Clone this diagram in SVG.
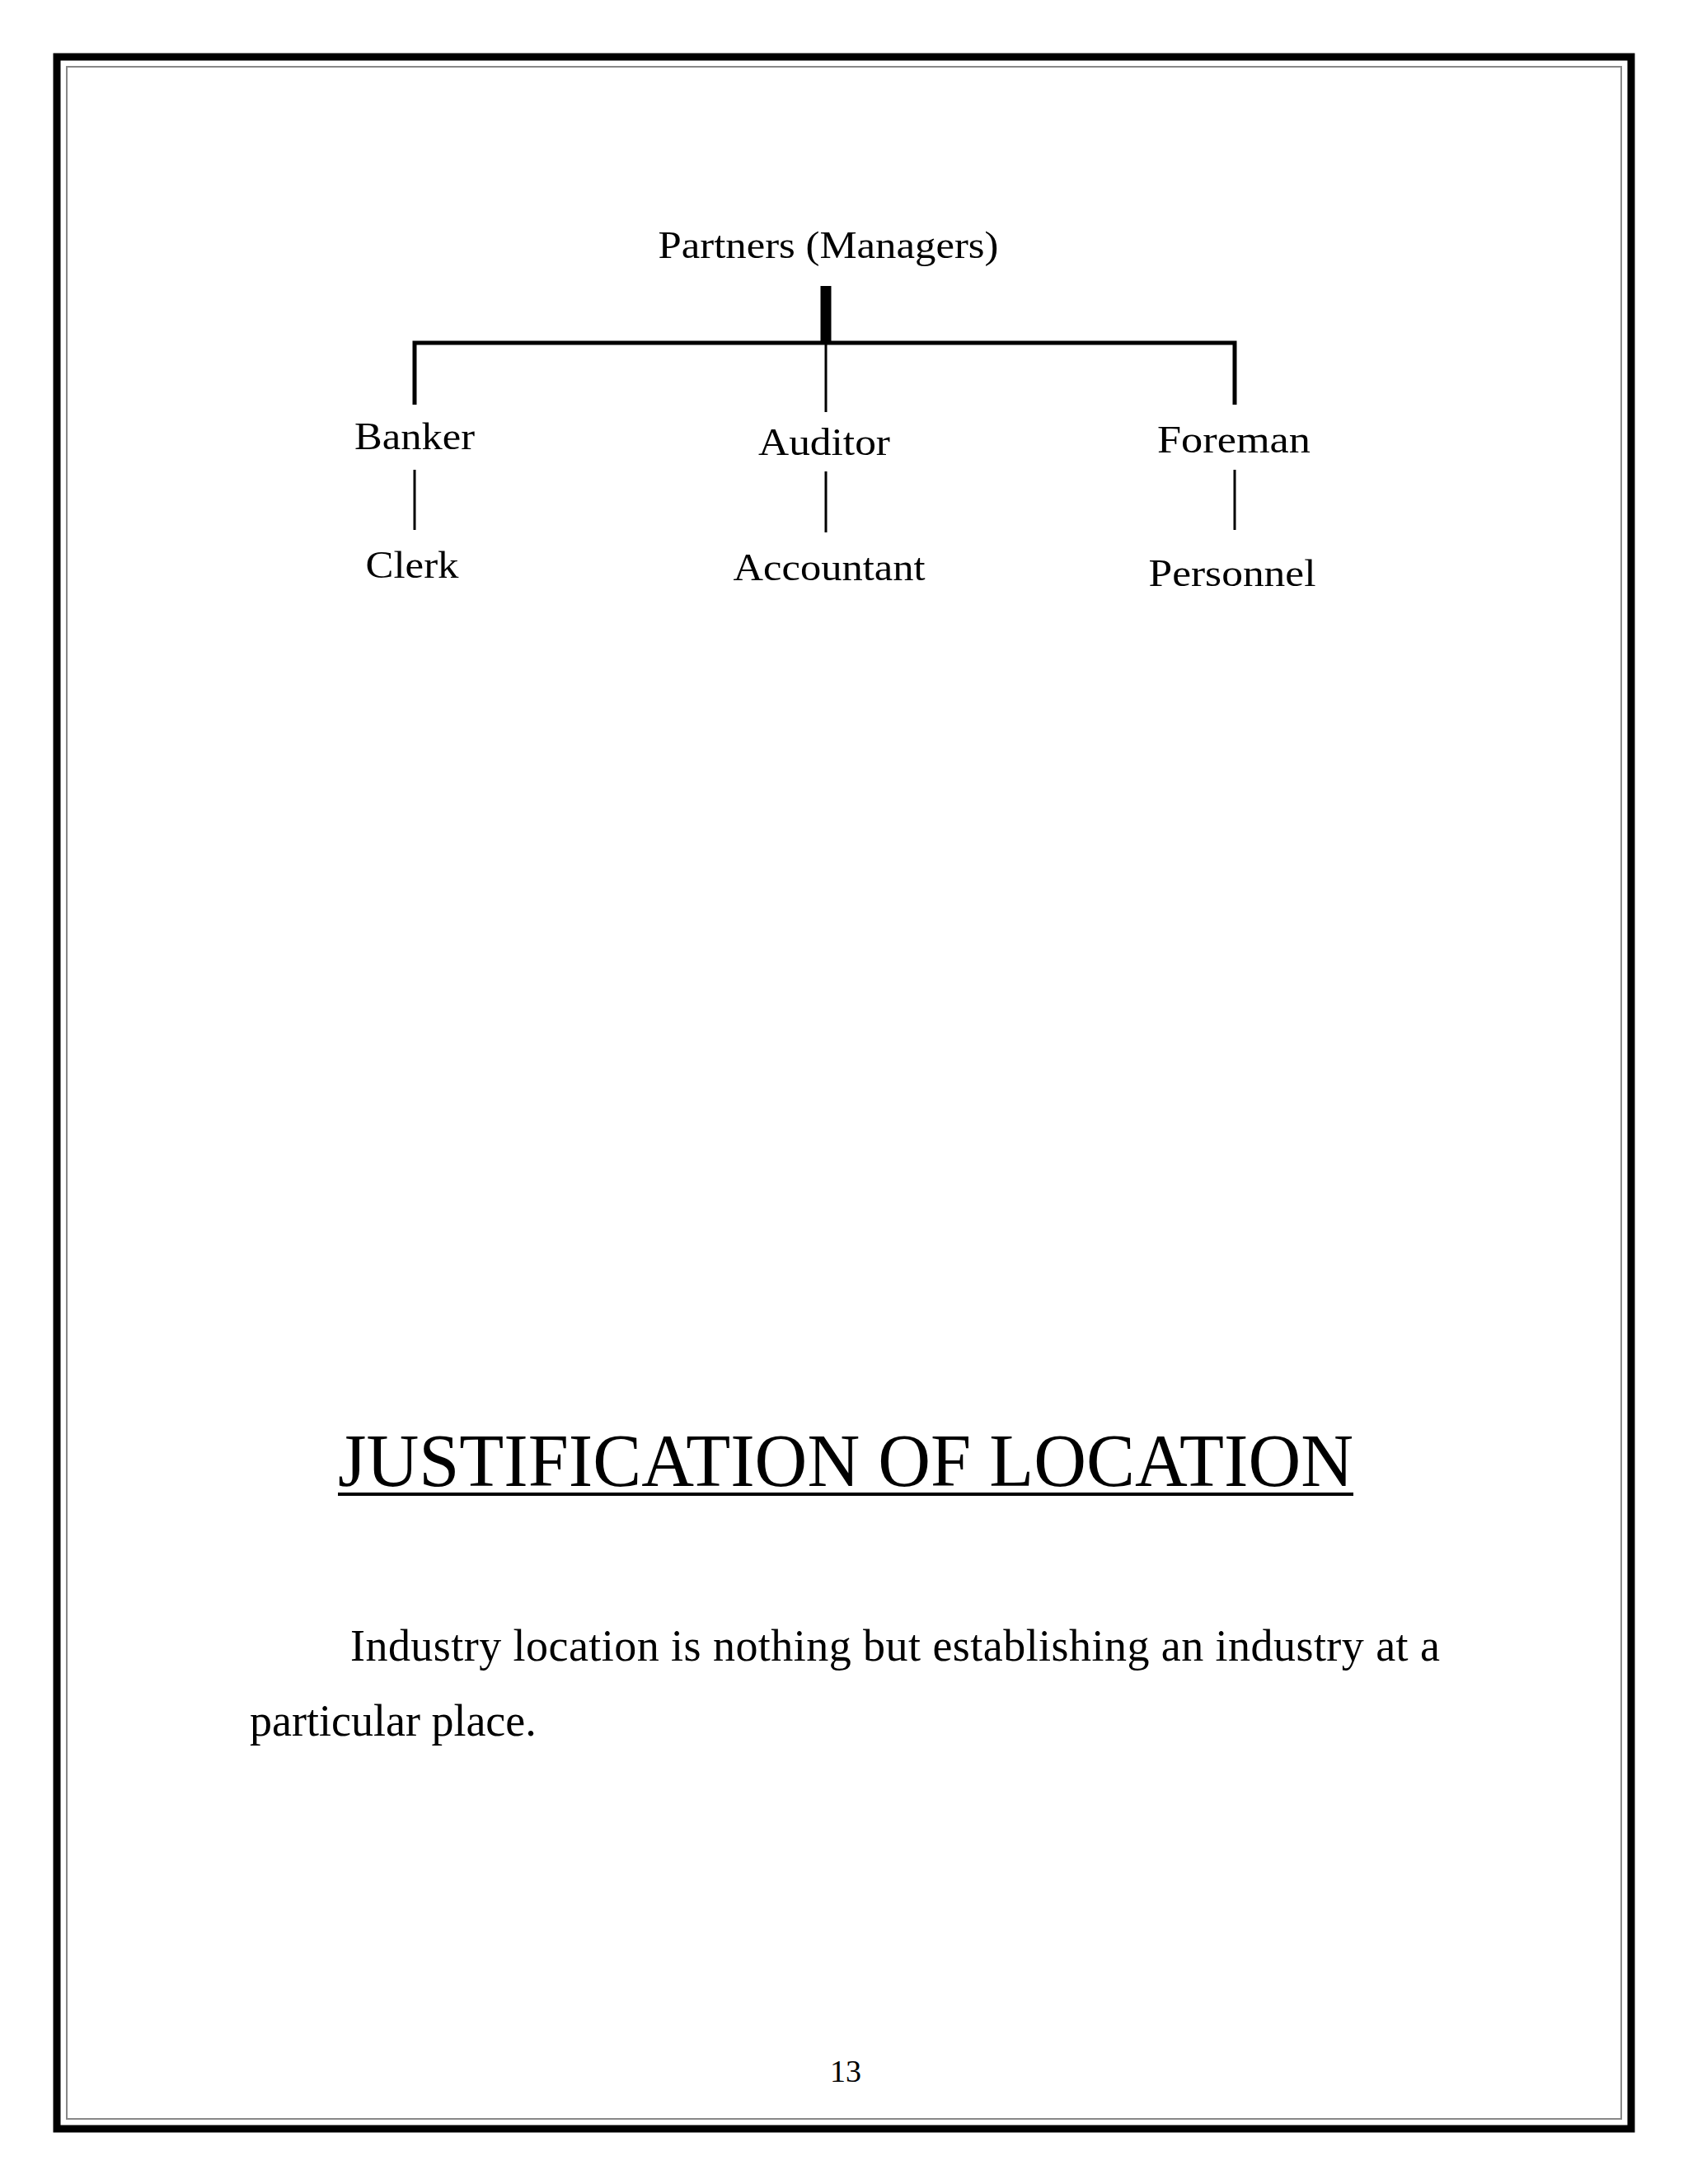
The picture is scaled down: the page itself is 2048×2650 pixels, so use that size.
<svg xmlns="http://www.w3.org/2000/svg" width="2048" height="2650" viewBox="0 0 2048 2650">
<style>
.t{font-family:"Liberation Serif","Times New Roman",serif;fill:#000}
.c{stroke:#000;fill:none}
</style>
<rect width="2048" height="2650" fill="#fff"/>
<g id="border">
<rect x="69" y="69" width="1910" height="2514" fill="none" stroke="#000" stroke-width="9"/>
<rect x="81" y="81" width="1886" height="2490" fill="none" stroke="#888" stroke-width="2"/>
</g>
<g id="connectors">
<line class="c" x1="1002" y1="347" x2="1002" y2="418" stroke-width="13"/>
<polyline class="c" points="503,491 503,416 1498,416 1498,491" stroke-width="5"/>
<line class="c" x1="1002" y1="416" x2="1002" y2="500" stroke-width="3"/>
<line class="c" x1="503" y1="570" x2="503" y2="643" stroke-width="3"/>
<line class="c" x1="1002" y1="572" x2="1002" y2="646" stroke-width="3"/>
<line class="c" x1="1498" y1="570" x2="1498" y2="643" stroke-width="3"/>
</g>
<g id="partners"><text class="t" x="1005" y="313" font-size="46" text-anchor="middle" textLength="413" lengthAdjust="spacingAndGlyphs">Partners (Managers)</text></g>
<g id="banker"><text class="t" x="503" y="545" font-size="46" text-anchor="middle" textLength="146" lengthAdjust="spacingAndGlyphs">Banker</text></g>
<g id="auditor"><text class="t" x="1000" y="552" font-size="46" text-anchor="middle" textLength="160" lengthAdjust="spacingAndGlyphs">Auditor</text></g>
<g id="foreman"><text class="t" x="1497" y="549" font-size="46" text-anchor="middle" textLength="186" lengthAdjust="spacingAndGlyphs">Foreman</text></g>
<g id="clerk"><text class="t" x="500" y="701" font-size="46" text-anchor="middle" textLength="113" lengthAdjust="spacingAndGlyphs">Clerk</text></g>
<g id="accountant"><text class="t" x="1006" y="704" font-size="46" text-anchor="middle" textLength="233" lengthAdjust="spacingAndGlyphs">Accountant</text></g>
<g id="personnel"><text class="t" x="1495" y="711" font-size="46" text-anchor="middle" textLength="203" lengthAdjust="spacingAndGlyphs">Personnel</text></g>
<g id="heading">
<text class="t" x="410" y="1803" font-size="92" textLength="1232" lengthAdjust="spacingAndGlyphs">JUSTIFICATION OF LOCATION</text>
<line x1="410" y1="1813" x2="1642" y2="1813" stroke="#000" stroke-width="4"/>
</g>
<g id="body">
<text class="t" x="425" y="2015" font-size="54" textLength="1322" lengthAdjust="spacing">Industry location is nothing but establishing an industry at a</text>
<text class="t" x="303" y="2106" font-size="54">particular place.</text>
</g>
<g id="page"><text class="t" x="1026" y="2526" font-size="38" text-anchor="middle">13</text></g>
</svg>
